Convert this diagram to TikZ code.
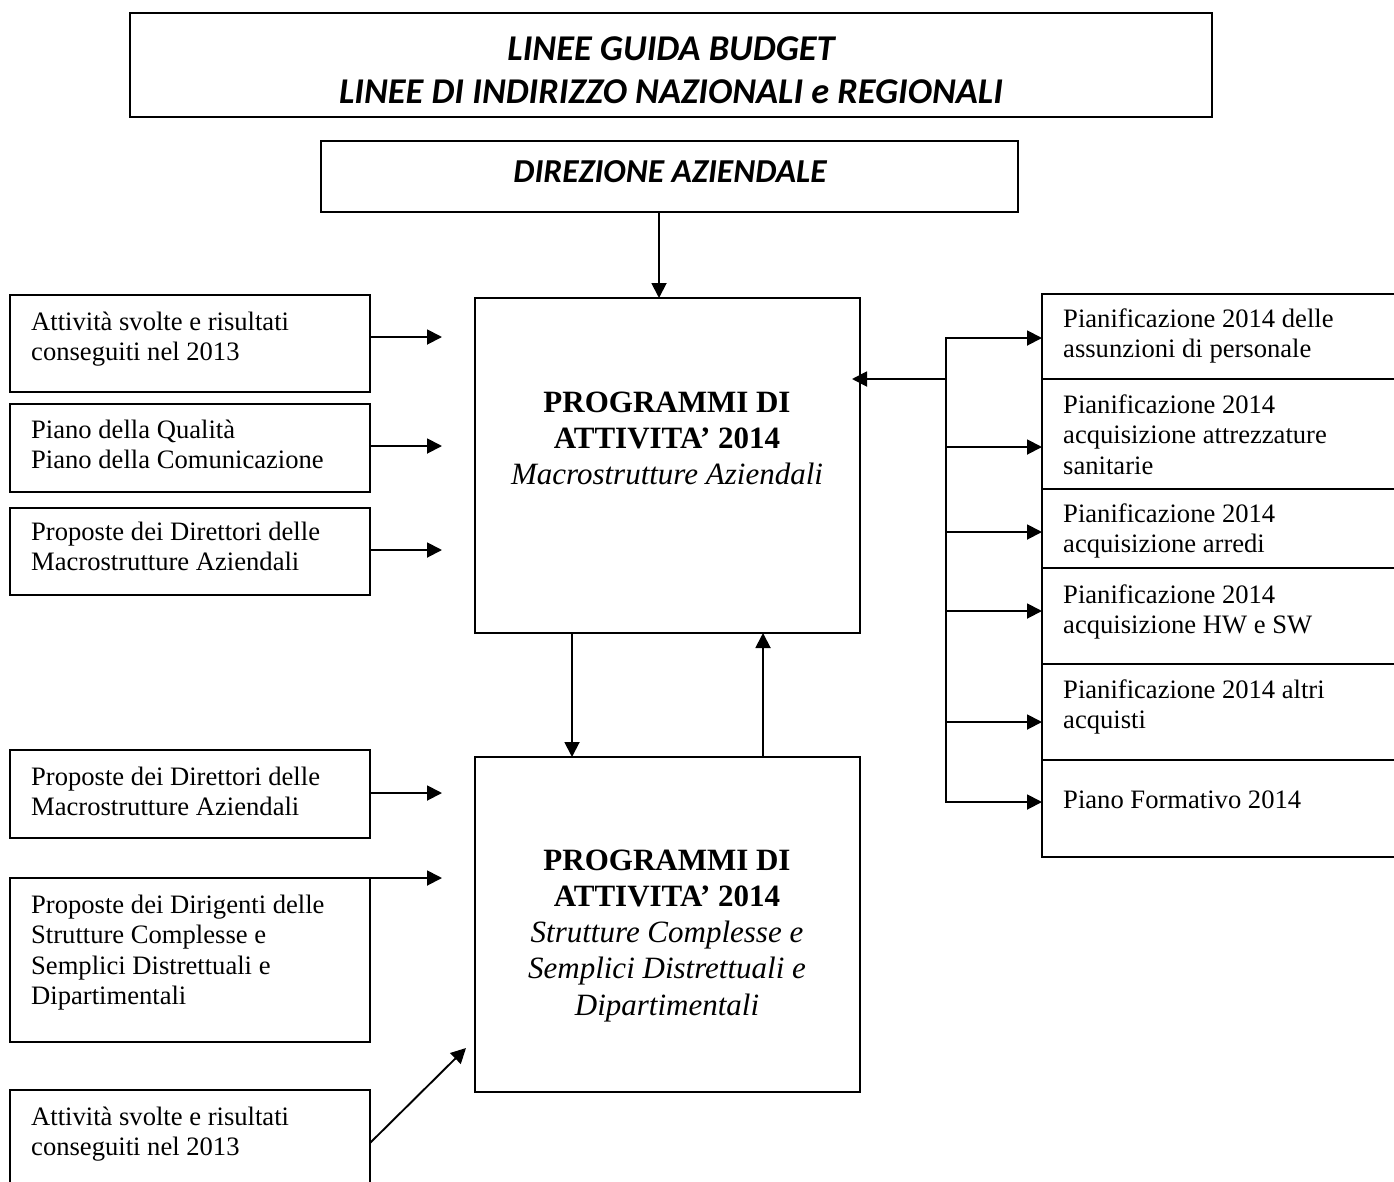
\documentclass[tikz,border=0pt]{standalone}
\usepackage{fontspec}
\setmainfont{Liberation Serif}
\newfontfamily\calibri{Carlito}
\usetikzlibrary{arrows.meta}
\newcommand\mytabl[1]{\begin{tabular}[t]{@{}l@{}}#1\end{tabular}}
\newcommand\mytabc[1]{\begin{tabular}[t]{@{}c@{}}#1\end{tabular}}
\begin{document}
\begin{tikzpicture}[x=1pt,y=-1pt,
  box/.style={draw,line width=1.9pt,rectangle,inner sep=0pt,outer sep=0pt,anchor=north west},
  txt/.style={inner sep=0pt,anchor=base west,font=\fontsize{26.6}{30.5}\selectfont},
  ptxt/.style={inner sep=0pt,anchor=base,font=\fontsize{31}{36.3}\selectfont},
  ttl/.style={inner sep=0pt,anchor=base,font=\calibri\bfseries\itshape},
  arr/.style={line width=1.9pt,-{Triangle[length=15pt,width=15pt]}},
  ln/.style={line width=1.9pt,line cap=rect}]
\useasboundingbox (0,0) rectangle (1394,1181);
\clip (0,0) rectangle (1394,1181);

% title boxes
\node[box,minimum width=1082pt,minimum height=104pt] (top) at (130,13) {};
\node[ttl] (toptext) at (671,60) {\fontsize{36.3}{43}\selectfont\mytabc{LINEE GUIDA BUDGET\\LINEE DI INDIRIZZO NAZIONALI e REGIONALI}};
\node[box,minimum width=697pt,minimum height=71pt] (dir) at (321,141) {};
\node[ttl] (dirtext) at (670,182) {\fontsize{33.5}{38}\selectfont DIREZIONE AZIENDALE};

% main boxes
\node[box,minimum width=385pt,minimum height=335pt] (p1) at (475,298) {};
\node[ptxt] (p1text) at (667,412) {\mytabc{\textbf{PROGRAMMI DI}\\\textbf{ATTIVITA’ 2014}\\\textit{Macrostrutture Aziendali}}};
\node[box,minimum width=385pt,minimum height=335pt] (p2) at (475,757) {};
\node[ptxt] (p2text) at (667,870) {\mytabc{\textbf{PROGRAMMI DI}\\\textbf{ATTIVITA’ 2014}\\\textit{Strutture Complesse e}\\\textit{Semplici Distrettuali e}\\\textit{Dipartimentali}}};

% left boxes
\node[box,minimum width=360pt,minimum height=97pt] (b1) at (10,295) {};
\node[txt] (t1) at (31,330) {\mytabl{Attività svolte e risultati\\conseguiti nel 2013}};
\node[box,minimum width=360pt,minimum height=88pt] (b2) at (10,404) {};
\node[txt] (t2) at (31,438) {\mytabl{Piano della Qualità\\Piano della Comunicazione}};
\node[box,minimum width=360pt,minimum height=87pt] (b3) at (10,508) {};
\node[txt] (t3) at (31,540) {\mytabl{Proposte dei Direttori delle\\Macrostrutture Aziendali}};
\node[box,minimum width=360pt,minimum height=88pt] (b4) at (10,750) {};
\node[txt] (t4) at (31,785) {\mytabl{Proposte dei Direttori delle\\Macrostrutture Aziendali}};
\node[box,minimum width=360pt,minimum height=164pt] (b5) at (10,878) {};
\node[txt] (t5) at (31,913) {\mytabl{Proposte dei Dirigenti delle\\Strutture Complesse e\\Semplici Distrettuali e\\Dipartimentali}};
\node[box,minimum width=360pt,minimum height=120pt] (b6) at (10,1090) {};
\node[txt] (t6) at (31,1125) {\mytabl{Attività svolte e risultati\\conseguiti nel 2013}};

% right boxes
\node[box,minimum width=400pt,minimum height=85pt] (rA) at (1042,294) {};
\node[txt] (tA) at (1063,327) {\mytabl{Pianificazione 2014 delle\\assunzioni di personale}};
\node[box,minimum width=400pt,minimum height=110pt] (rB) at (1042,379) {};
\node[txt] (tB) at (1063,413) {\mytabl{Pianificazione 2014\\acquisizione attrezzature\\sanitarie}};
\node[box,minimum width=400pt,minimum height=79pt] (rC) at (1042,489) {};
\node[txt] (tC) at (1063,522) {\mytabl{Pianificazione 2014\\acquisizione arredi}};
\node[box,minimum width=400pt,minimum height=96pt] (rD) at (1042,568) {};
\node[txt] (tD) at (1063,603) {\mytabl{Pianificazione 2014\\acquisizione HW e SW}};
\node[box,minimum width=400pt,minimum height=96pt] (rE) at (1042,664) {};
\node[txt] (tE) at (1063,698) {\mytabl{Pianificazione 2014 altri\\acquisti}};
\node[box,minimum width=400pt,minimum height=97pt] (rF) at (1042,760) {};
\node[txt] (tF) at (1063,808) {\mytabl{Piano Formativo 2014}};

% coordinates
\coordinate (a0) at (659,0);
\coordinate (e1) at (442,337);
\coordinate (e2) at (442,446);
\coordinate (e3) at (442,550);
\coordinate (e4) at (442,793);
\coordinate (e5) at (442,878);
\coordinate (s6) at (370,1143);
\coordinate (e6) at (466,1048);
\coordinate (m1) at (572,0);
\coordinate (m2) at (763,0);
\coordinate (jt) at (946,338);
\coordinate (j0) at (946,379);
\coordinate (j2) at (946,447);
\coordinate (j3) at (946,532);
\coordinate (j4) at (946,611);
\coordinate (j5) at (946,722);
\coordinate (jb) at (946,802);

% connectors
\draw[arr] (dir.south -| a0) -- (p1.north -| a0);
\draw[arr] (b1.east |- e1) -- (e1);
\draw[arr] (b2.east |- e2) -- (e2);
\draw[arr] (b3.east |- e3) -- (e3);
\draw[arr] (b4.east |- e4) -- (e4);
\draw[arr] (b5.north east) -- (e5);
\draw[arr] (b6.east |- s6) -- (e6);
\draw[arr] (p1.south -| m1) -- (p2.north -| m1);
\draw[arr] (p2.north -| m2) -- (p1.south -| m2);

\draw[ln] (jt) -- (jb);
\draw[arr,shorten >=-8pt] (j0) -- (p1.east |- j0);
\draw[arr] (jt) -- (rA.west |- jt);
\draw[arr] (j2) -- (rB.west |- j2);
\draw[arr] (j3) -- (rC.west |- j3);
\draw[arr] (j4) -- (rD.west |- j4);
\draw[arr] (j5) -- (rE.west |- j5);
\draw[arr] (jb) -- (rF.west |- jb);
\end{tikzpicture}
\end{document}
